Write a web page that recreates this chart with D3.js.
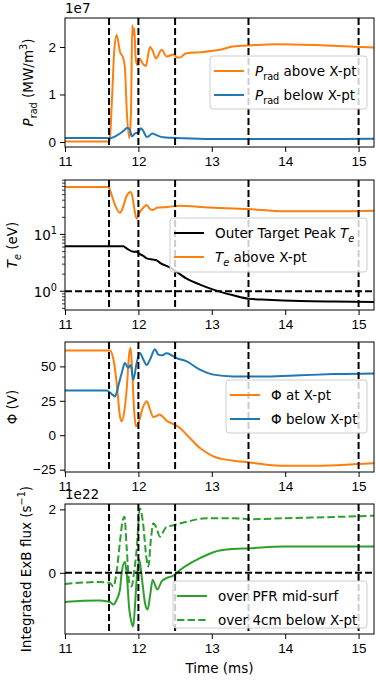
<!DOCTYPE html>
<html>
<head>
<meta charset="utf-8">
<script src="https://cdn.jsdelivr.net/npm/d3@7"></script>
<style>
body { margin: 0; background: #fff; }
svg { font-family: "DejaVu Sans", sans-serif; font-size: 13.5px; }
</style>
</head>
<body>
<svg id="chart" width="376" height="680"></svg>
<script>
// x axis, time in ms
const xTicks = [11, 12, 13, 14, 15];
const eventTimes = [11.6, 12.0, 12.5, 13.5, 15.0];

// panel 1: P_rad in units of 1e7
const pradAboveT = [11.0, 11.6, 11.613, 11.64, 11.67, 11.704, 11.749, 11.795, 11.817, 11.84, 11.876, 11.899, 11.917, 11.93, 11.944, 11.963, 11.985, 12.013, 12.06, 12.1, 12.158, 12.2, 12.24, 12.317, 12.385, 12.476, 12.53, 12.567, 12.62, 12.658, 12.84, 13.112, 13.293, 13.498, 13.884, 14.429, 15.0, 15.21];
const pradAbove  = [0.01, 0.01, 0.1, 0.9, 1.9, 2.25, 1.9, 1.76, 1.55, 0.71, 0.08, 0.64, 2.46, 2.25, 2.39, 1.76, 1.62, 1.76, 1.65, 1.6, 2.0, 1.9, 1.76, 1.94, 1.8, 1.84, 1.78, 1.78, 1.84, 1.87, 1.89, 1.94, 2.01, 2.03, 2.06, 2.04, 2.0, 1.99];
const pradBelowT = [11.0, 11.5, 11.613, 11.66, 11.749, 11.8, 11.85, 11.886, 11.91, 11.954, 12.0, 12.03, 12.06, 12.113, 12.14, 12.19, 12.226, 12.27, 12.34, 12.45, 12.6, 13.0, 13.5, 14.5, 15.21];
const pradBelow  = [0.085, 0.084, 0.08, 0.1, 0.18, 0.24, 0.3, 0.25, 0.12, 0.18, 0.2, 0.29, 0.25, 0.11, 0.12, 0.18, 0.16, 0.13, 0.1, 0.09, 0.08, 0.065, 0.065, 0.065, 0.07];

// panel 2: T_e (eV), log scale
const teAboveT = [11.0, 11.59, 11.636, 11.681, 11.749, 11.79, 11.84, 11.895, 11.92, 11.945, 11.976, 12.022, 12.067, 12.113, 12.158, 12.203, 12.249, 12.4, 12.567, 12.9, 13.5, 13.975, 14.656, 15.21];
const teAbove  = [68.4, 68.4, 49, 33, 24, 30, 48, 56, 45, 28, 19, 25, 29.5, 33, 28, 27, 29.5, 30.5, 32, 30, 28, 25.5, 25.5, 26.2];
const teTargetT = [11.0, 11.795, 11.84, 11.93, 11.976, 12.0, 12.02, 12.067, 12.113, 12.2, 12.249, 12.294, 12.43, 12.658, 12.839, 13.021, 13.293, 13.498, 13.748, 14.202, 14.656, 15.21];
const teTarget  = [6.2, 6.2, 5.67, 4.94, 5.0, 4.7, 4.5, 4.2, 3.78, 3.6, 3.5, 3.16, 2.62, 1.67, 1.31, 1.07, 0.85, 0.74, 0.71, 0.675, 0.66, 0.65];

// panel 3: potential (V)
const phiXptT = [11.0, 11.613, 11.66, 11.704, 11.749, 11.772, 11.804, 11.84, 11.876, 11.894, 11.917, 11.944, 11.967, 12.0, 12.067, 12.113, 12.158, 12.203, 12.249, 12.285, 12.34, 12.385, 12.476, 12.567, 12.658, 12.839, 13.021, 13.293, 13.498, 13.748, 13.975, 14.429, 15.0, 15.21];
const phiXpt  = [61.6, 61.6, 55, 38, 13.7, 10, 16, 33, 59.7, 63.3, 45, 16, 6.4, 9, 21, 24.6, 18.6, 13.2, 14, 15, 13, 10.5, 8.1, 5.3, 0.4, -9.3, -15.3, -18.5, -19.7, -21.4, -22.1, -22.1, -20.9, -20.4];
const phiBelowT = [11.0, 11.568, 11.613, 11.658, 11.681, 11.727, 11.772, 11.817, 11.86, 11.895, 11.93, 11.976, 12.02, 12.067, 12.113, 12.158, 12.226, 12.272, 12.317, 12.385, 12.453, 12.521, 12.658, 12.839, 13.021, 13.293, 13.748, 14.202, 14.656, 15.21];
const phiBelow  = [32.5, 32.5, 31, 29, 28.2, 36, 45, 52.4, 49, 51, 40.3, 52.4, 59.7, 55, 51, 54.9, 62.4, 58.5, 58, 59.5, 58, 56, 53.6, 47.6, 44, 42.7, 42.7, 43.5, 44.4, 44.9];

// panel 4: integrated ExB flux in units of 1e22 s^-1
const fluxPfrT = [11.0, 11.25, 11.477, 11.613, 11.66, 11.704, 11.749, 11.772, 11.817, 11.84, 11.876, 11.908, 11.93, 11.953, 11.976, 12.013, 12.045, 12.09, 12.126, 12.158, 12.195, 12.226, 12.258, 12.317, 12.385, 12.476, 12.567, 12.703, 12.839, 13.021, 13.293, 13.498, 13.975, 14.656, 15.21];
const fluxPfr  = [-0.92, -0.88, -0.87, -0.92, -1.0, -0.85, -0.53, 0.0, 0.35, 0.0, -1.16, -1.58, -1.69, -1.06, -0.22, 0.41, -0.12, -0.95, -1.16, -0.74, -0.22, -0.38, -0.53, -0.27, -0.17, -0.09, 0.09, 0.3, 0.46, 0.65, 0.75, 0.77, 0.83, 0.83, 0.83];
const flux4cmT = [11.0, 11.477, 11.613, 11.658, 11.704, 11.749, 11.782, 11.81, 11.84, 11.876, 11.908, 11.94, 11.976, 12.02, 12.058, 12.113, 12.135, 12.17, 12.203, 12.24, 12.294, 12.34, 12.385, 12.476, 12.658, 12.93, 13.293, 13.566, 13.975, 14.656, 15.21];
const flux4cm  = [-0.35, -0.29, -0.32, -0.43, 0.04, 0.98, 1.6, 1.77, 0.8, -0.32, -0.43, 0.0, 0.72, 2.03, 1.66, 0.41, 0.2, 1.04, 1.56, 1.45, 1.14, 1.3, 1.45, 1.5, 1.61, 1.72, 1.72, 1.69, 1.72, 1.76, 1.8];

const orange = "#ff7f0e", blue = "#1f77b4", green = "#2ca02c";
const svg = d3.select("#chart");
const left = 65, right = 374;
const x = d3.scaleLinear().domain([11, 15.21]).range([left, right]);

// write text made of plain / italic / sub / sup pieces
function rich(text, parts) {
    let shift = 0;
    parts.forEach(p => {
        const ts = text.append("tspan").text(p.t);
        const target = p.sub ? 4 : p.sup ? -6 : 0;
        if (target !== shift) { ts.attr("dy", target - shift); shift = target; }
        if (p.sub || p.sup) ts.attr("font-size", "0.72em");
        if (p.it) ts.attr("font-style", "italic");
    });
    return text;
}

function panel(id, top, bottom, y) {
    const g = svg.append("g");
    svg.append("clipPath").attr("id", id)
        .append("rect").attr("x", left).attr("y", top)
        .attr("width", right - left).attr("height", bottom - top);
    const plot = g.append("g").attr("clip-path", `url(#${id})`);

    const xa = g.append("g").attr("transform", `translate(0,${bottom})`)
        .call(d3.axisBottom(x).tickValues(xTicks).tickSize(5).tickPadding(4).tickFormat(d3.format("d")));
    xa.select(".domain").remove();
    xa.selectAll("text").attr("font-size", 13.5).attr("fill", "#000").attr("font-family", null);
    return { g, plot, y, top, bottom };
}

function drawLine(p, ts, vs, color, dash) {
    const data = ts.map((t, i) => [t, vs[i]]);
    p.plot.append("path").datum(data)
        .attr("fill", "none").attr("stroke", color).attr("stroke-width", 2)
        .attr("stroke-dasharray", dash || null)
        .attr("d", d3.line().x(d => x(d[0])).y(d => p.y(d[1])).curve(d3.curveMonotoneX));
}

function markers(p, hline) {
    p.plot.selectAll(".ev").data(eventTimes).join("line")
        .attr("x1", d => x(d)).attr("x2", d => x(d))
        .attr("y1", p.top).attr("y2", p.bottom)
        .attr("stroke", "#000").attr("stroke-width", 2).attr("stroke-dasharray", "7,3");
    if (hline !== undefined) {
        p.plot.append("line")
            .attr("x1", left).attr("x2", right)
            .attr("y1", p.y(hline)).attr("y2", p.y(hline))
            .attr("stroke", "#000").attr("stroke-width", 2).attr("stroke-dasharray", "7,3");
    }
}

function frame(p) {
    p.g.append("rect").attr("x", left).attr("y", p.top)
        .attr("width", right - left).attr("height", p.bottom - p.top)
        .attr("fill", "none").attr("stroke", "#000").attr("stroke-width", 1);
}

function yAxis(p, ticks) {
    const ya = p.g.append("g").attr("transform", `translate(${left},0)`)
        .call(d3.axisLeft(p.y).tickValues(ticks).tickSize(5).tickPadding(4).tickFormat(d3.format("d")));
    ya.select(".domain").remove();
    ya.selectAll("text").attr("font-size", 13.5).attr("fill", "#000").attr("font-family", null);
}

function yLabel(p, xpos, parts) {
    const t = p.g.append("text").attr("text-anchor", "middle")
        .attr("transform", `translate(${xpos},${(p.top + p.bottom) / 2}) rotate(-90)`);
    rich(t, parts);
}

function legend(p, x0, y0, w, h, rows) {
    const lg = p.g.append("g");
    lg.append("rect").attr("x", x0).attr("y", y0).attr("width", w).attr("height", h)
        .attr("rx", 3).attr("fill", "#fff").attr("fill-opacity", 0.8)
        .attr("stroke", "#ccc").attr("stroke-width", 1);
    rows.forEach((r, i) => {
        const yy = y0 + 15 + i * 24;
        lg.append("line").attr("x1", x0 + 4).attr("x2", x0 + 34)
            .attr("y1", yy).attr("y2", yy)
            .attr("stroke", r.color).attr("stroke-width", 2)
            .attr("stroke-dasharray", r.dash || null);
        const t = lg.append("text").attr("x", x0 + 45).attr("y", yy + 5);
        rich(t, r.parts);
    });
}

// ---- panel 1
const p1 = panel("c1", 18, 147, d3.scaleLinear().domain([-0.105, 2.61]).range([147, 18]));
drawLine(p1, pradAboveT, pradAbove, orange);
drawLine(p1, pradBelowT, pradBelow, blue);
markers(p1);
frame(p1);
yAxis(p1, [0, 1, 2]);
yLabel(p1, 33, [{ t: "P", it: true }, { t: "rad", sub: true }, { t: " (MW/m" }, { t: "3", sup: true }, { t: ")" }]);
p1.g.append("text").attr("x", left).attr("y", 13).text("1e7");
legend(p1, 210, 56, 157, 53, [
    { color: orange, parts: [{ t: "P", it: true }, { t: "rad", sub: true }, { t: " above X-pt" }] },
    { color: blue, parts: [{ t: "P", it: true }, { t: "rad", sub: true }, { t: " below X-pt" }] }
]);

// ---- panel 2 (log)
const p2 = panel("c2", 180, 310, d3.scaleLog().domain([0.468, 90.7]).range([310, 180]));
drawLine(p2, teTargetT, teTarget, "#000");
drawLine(p2, teAboveT, teAbove, orange);
markers(p2, 1);
frame(p2);
{
    const minor = [0.5, 0.6, 0.7, 0.8, 0.9, 2, 3, 4, 5, 6, 7, 8, 9, 20, 30, 40, 50, 60, 70, 80, 90];
    p2.g.selectAll(".minor").data(minor).join("line")
        .attr("x1", left - 3).attr("x2", left)
        .attr("y1", d => p2.y(d)).attr("y2", d => p2.y(d))
        .attr("stroke", "#000").attr("stroke-width", 0.8);
    [[1, "0"], [10, "1"]].forEach(([v, e]) => {
        p2.g.append("line").attr("x1", left - 5).attr("x2", left)
            .attr("y1", p2.y(v)).attr("y2", p2.y(v)).attr("stroke", "#000");
        const t = p2.g.append("text").attr("x", left - 8).attr("y", p2.y(v) + 6).attr("text-anchor", "end");
        rich(t, [{ t: "10" }, { t: e, sup: true }]);
    });
}
yLabel(p2, 17, [{ t: "T", it: true }, { t: "e", it: true, sub: true }, { t: " (eV)" }]);
legend(p2, 170, 218, 197, 54, [
    { color: "#000", parts: [{ t: "Outer Target Peak " }, { t: "T", it: true }, { t: "e", it: true, sub: true }] },
    { color: orange, parts: [{ t: "T", it: true }, { t: "e", it: true, sub: true }, { t: " above X-pt" }] }
]);

// ---- panel 3
const p3 = panel("c3", 342, 472, d3.scaleLinear().domain([-26.7, 67.7]).range([472, 342]));
drawLine(p3, phiXptT, phiXpt, orange);
drawLine(p3, phiBelowT, phiBelow, blue);
markers(p3);
frame(p3);
yAxis(p3, [-25, 0, 25, 50]);
yLabel(p3, 17, [{ t: "Φ (V)" }]);
legend(p3, 226, 380, 141, 53, [
    { color: orange, parts: [{ t: "Φ at X-pt" }] },
    { color: blue, parts: [{ t: "Φ below X-pt" }] }
]);

// ---- panel 4
const p4 = panel("c4", 504, 634, d3.scaleLinear().domain([-1.93, 2.17]).range([634, 504]));
drawLine(p4, fluxPfrT, fluxPfr, green);
drawLine(p4, flux4cmT, flux4cm, green, "7.4,3.2");
markers(p4, 0);
frame(p4);
yAxis(p4, [0, 2]);
yLabel(p4, 31, [{ t: "Integrated ExB flux (s" }, { t: "−1", sup: true }, { t: ")" }]);
p4.g.append("text").attr("x", left).attr("y", 499).text("1e22");
legend(p4, 173, 581, 194, 47, [
    { color: green, parts: [{ t: "over PFR mid-surf" }] },
    { color: green, dash: "7.4,3.2", parts: [{ t: "over 4cm below X-pt" }] }
]);

svg.append("text").attr("x", (left + right) / 2).attr("y", 673)
    .attr("text-anchor", "middle").text("Time (ms)");
</script>
</body>
</html>
